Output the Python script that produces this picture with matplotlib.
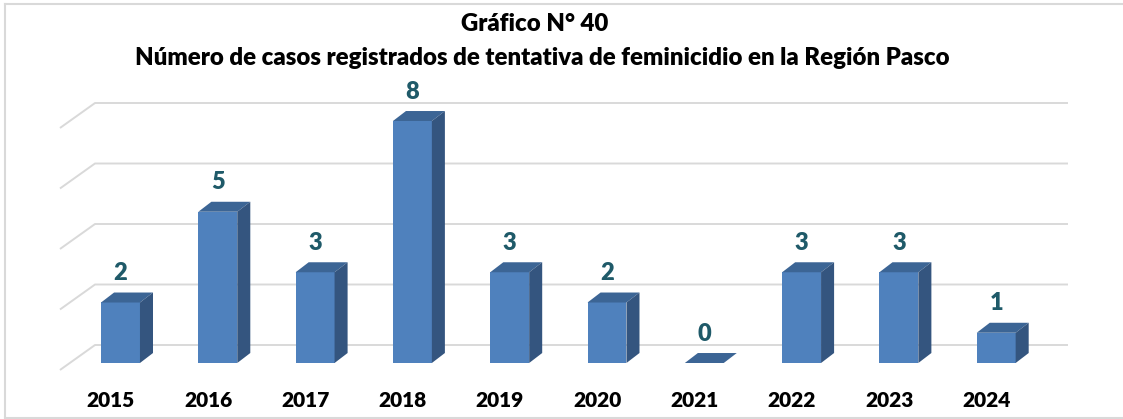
import matplotlib
matplotlib.use("Agg")
import matplotlib.pyplot as plt
from matplotlib.patches import Polygon
from matplotlib.lines import Line2D

plt.rcParams['font.family'] = ['Lato', 'DejaVu Sans']

years = ['2015', '2016', '2017', '2018', '2019', '2020', '2021', '2022', '2023', '2024']
casos = [2, 5, 3, 8, 3, 2, 0, 3, 3, 1]
grid_vals = [0, 2, 4, 6, 8]

FRONT = '#4F81BD'
TOP = '#3C6595'
SIDE = '#34557F'
LABEL = '#1F5A69'
GRID = '#D9D9D9'

W, H = 1123, 419
fig = plt.figure(figsize=(W / 100, H / 100), dpi=100)
ax = fig.add_axes([50 / W, 44 / H, 1025 / W, 280 / H])
ax.set_xlim(-0.7246, 9.810)
ax.set_ylim(-0.3967, 8.8595)
ax.axis('off')

# 3d-looking walls: slanted side segment + horizontal back line
for g in grid_vals:
    ax.plot([-0.622, -0.262, 9.738], [g - 0.231, g + 0.595, g + 0.595],
            color=GRID, lw=1.4, zorder=1, clip_on=False, solid_capstyle='butt')

bw = 0.2          # half width of front face
dx, dy = 0.134, 0.33   # depth offset

x = list(range(len(years)))
ax.bar(x, casos, width=2 * bw, color=FRONT, zorder=3, linewidth=0)
for i, v in zip(x, casos):
    top = [(i - bw, v), (i + bw, v), (i + bw + dx, v + dy), (i - bw + dx, v + dy)]
    side = [(i + bw, 0), (i + bw + dx, dy), (i + bw + dx, v + dy), (i + bw, v)]
    ax.add_patch(Polygon(top, closed=True, fc=TOP, ec='none', zorder=3))
    if v > 0:
        ax.add_patch(Polygon(side, closed=True, fc=SIDE, ec='none', zorder=3))
    ax.text(i, v + 0.97, str(v), ha='center', va='center', fontsize=17,
            fontweight='heavy', color=LABEL, zorder=4)
    ax.text(i - 0.1, -1.256, years[i], ha='center', va='center', fontsize=15,
            fontweight='heavy', color='black', clip_on=False)

fig.text(535 / W, 1 - 24 / H, 'Gráfico N° 40', ha='center', va='center',
         fontsize=17.3, fontweight='heavy')
fig.text(542 / W, 1 - 58 / H,
         'Número de casos registrados de tentativa de feminicidio en la Región Pasco',
         ha='center', va='center', fontsize=17.3, fontweight='heavy')

# light outer frame
fig.add_artist(Line2D([5 / W, 5 / W], [1 / H, 1 - 4 / H], color=GRID, lw=1.5))
fig.add_artist(Line2D([5 / W, 1], [1 - 4 / H, 1 - 4 / H], color=GRID, lw=1.5))
fig.add_artist(Line2D([5 / W, 1], [1 / H, 1 / H], color=GRID, lw=1.5))

fig.savefig('out.png', dpi=100)
